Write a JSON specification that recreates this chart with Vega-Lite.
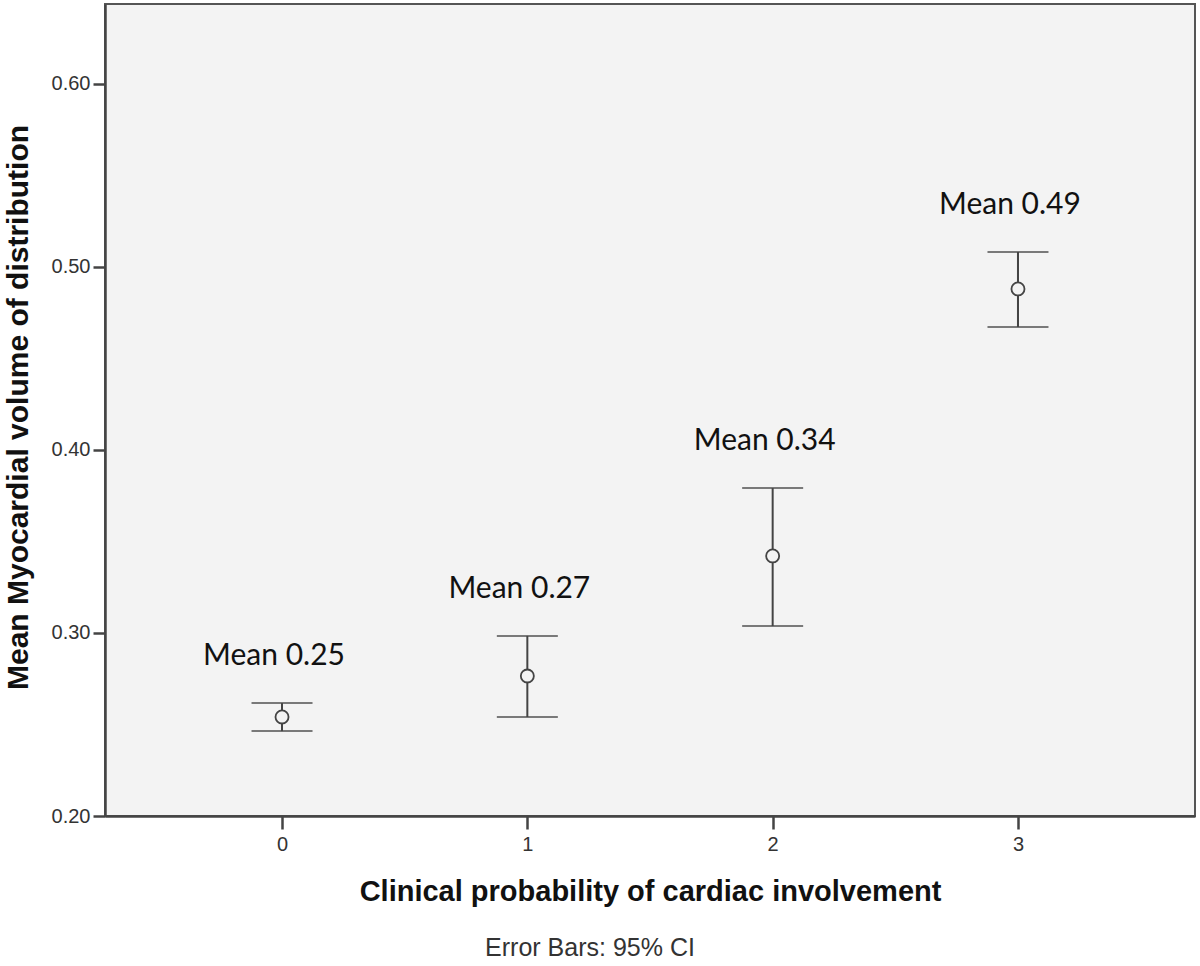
{
  "$schema": "https://vega.github.io/schema/vega-lite/v6.json",
  "width": 1090,
  "height": 812,
  "autosize": {"type": "none"},
  "padding": {"left": 105, "top": 4, "right": 5, "bottom": 150},
  "background": "white",
  "config": {
    "view": {"fill": "#f3f3f3", "stroke": "#555555", "strokeWidth": 2},
    "font": "Liberation Sans"
  },
  "title": {
    "text": "Error Bars: 95% CI",
    "orient": "bottom",
    "anchor": "middle",
    "frame": "group",
    "dx": -60,
    "offset": 30,
    "fontSize": 25,
    "fontWeight": "normal",
    "font": "Liberation Sans",
    "color": "#333333"
  },
  "data": {
    "values": [
      {"cat": 0, "mean": 0.2541, "lower": 0.2464, "upper": 0.2617, "label": "Mean 0.25"},
      {"cat": 1, "mean": 0.2765, "lower": 0.2541, "upper": 0.2984, "label": "Mean 0.27"},
      {"cat": 2, "mean": 0.3421, "lower": 0.3038, "upper": 0.3792, "label": "Mean 0.34"},
      {"cat": 3, "mean": 0.4880, "lower": 0.4672, "upper": 0.5082, "label": "Mean 0.49"}
    ]
  },
  "encoding": {
    "x": {
      "field": "cat",
      "type": "quantitative",
      "scale": {"domain": [-0.7216, 3.7216], "nice": false, "zero": false},
      "axis": {
        "values": [0, 1, 2, 3],
        "format": "d",
        "grid": false,
        "title": "Clinical probability of cardiac involvement",
        "titleFontSize": 29,
        "titleFontWeight": "bold",
        "titleColor": "#111111",
        "titleX": 545,
        "titleY": 75,
        "titleBaseline": "middle",
        "titleFont": "Liberation Sans",
        "labelFontSize": 20,
        "labelColor": "#333333",
        "labelPadding": 5,
        "tickSize": 13,
        "tickWidth": 2.5,
        "tickColor": "#444444",
        "domainColor": "#444444",
        "domainWidth": 2.5
      }
    }
  },
  "layer": [
    {
      "mark": {"type": "rule", "color": "#444444", "strokeWidth": 2},
      "encoding": {
        "y": {
          "field": "lower",
          "type": "quantitative",
          "scale": {"domain": [0.2, 0.6437], "nice": false, "zero": false},
          "axis": {
            "values": [0.2, 0.3, 0.4, 0.5, 0.6],
            "format": ".2f",
            "grid": false,
            "title": "Mean Myocardial volume of distribution",
            "titleFontSize": 30,
            "titleFontWeight": "bold",
            "titleColor": "#111111",
            "titleX": -87,
            "titleY": 403,
            "titleBaseline": "middle",
            "titleAlign": "center",
            "titleFont": "Liberation Sans",
            "labelFontSize": 20,
            "labelColor": "#333333",
            "labelPadding": 3,
            "tickSize": 12,
            "tickWidth": 2.5,
            "tickColor": "#444444",
            "domainColor": "#444444",
            "domainWidth": 2.5
          }
        },
        "y2": {"field": "upper"}
      }
    },
    {
      "mark": {"type": "tick", "orient": "horizontal", "size": 61, "thickness": 2, "color": "#444444"},
      "encoding": {"y": {"field": "upper", "type": "quantitative"}}
    },
    {
      "mark": {"type": "tick", "orient": "horizontal", "size": 61, "thickness": 2, "color": "#444444"},
      "encoding": {"y": {"field": "lower", "type": "quantitative"}}
    },
    {
      "mark": {"type": "point", "shape": "circle", "size": 170, "filled": true, "fill": "#f3f3f3", "stroke": "#444444", "strokeWidth": 1.8, "opacity": 1},
      "encoding": {"y": {"field": "mean", "type": "quantitative"}}
    },
    {
      "mark": {"type": "text", "font": "Lato", "fontSize": 30, "color": "#111111", "dy": -47, "dx": -8, "baseline": "middle", "align": "center"},
      "encoding": {
        "y": {"field": "upper", "type": "quantitative"},
        "text": {"field": "label"}
      }
    }
  ]
}
